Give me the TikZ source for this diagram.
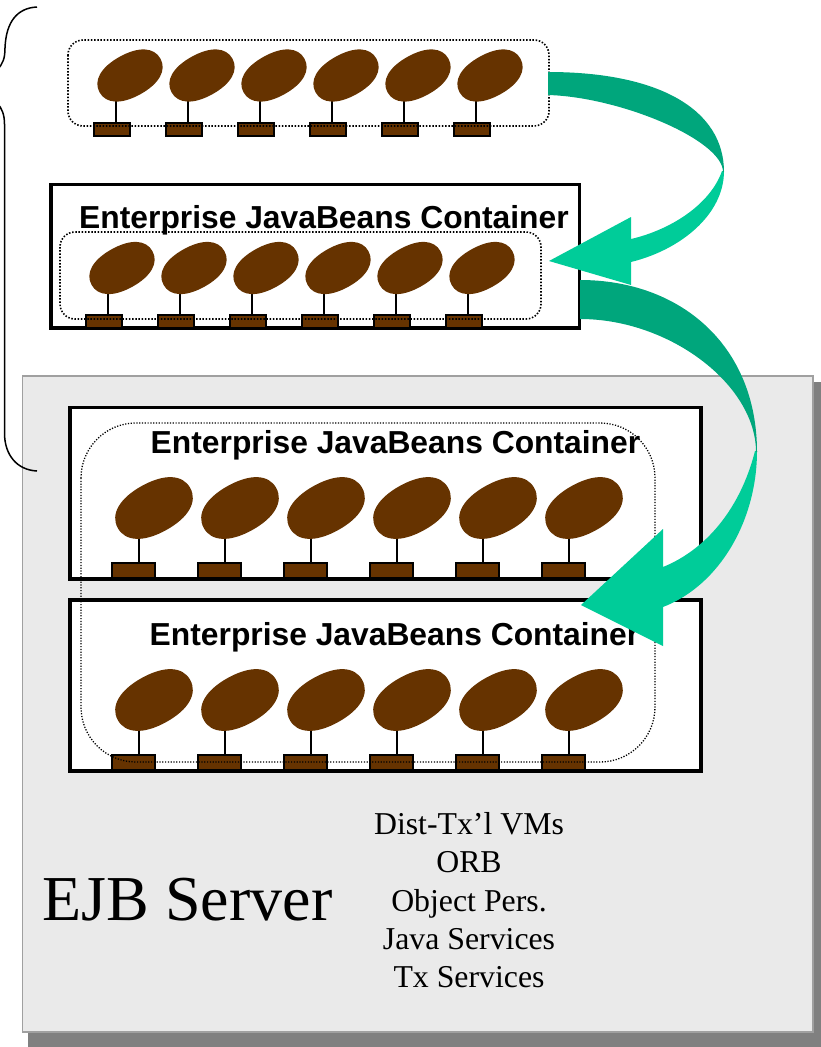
\documentclass[tikz,border=0pt]{standalone}
\usepackage{fontspec}
\setmainfont{Liberation Serif}
\newfontfamily\headfont{Liberation Sans}
\definecolor{beanbrown}{HTML}{663300}
\definecolor{arrowdark}{HTML}{00A67C}
\definecolor{arrowlight}{HTML}{00CC99}
\definecolor{serverfill}{HTML}{EAEAEA}
\definecolor{serveredge}{HTML}{A0A0A0}
\definecolor{servershadow}{HTML}{808080}
\tikzset{
  x=1pt,y=-1pt,
  every node/.style={outer sep=0pt,inner sep=0pt},
  container/.style={draw=black,line width=3.8pt,fill=white,anchor=north west},
  loopbox/.style={draw=black,dash pattern=on 1.5pt off 1.7pt,line width=1.6pt,rounded corners=15pt},
  bigloop/.style={draw=black,dash pattern=on 1.2pt off 1.6pt,line width=1.3pt,rounded corners=55pt},
  beanbase/.style={rectangle,draw=black,line width=2pt,fill=beanbrown},
  smallbase/.style={beanbase,minimum width=36pt,minimum height=13pt},
  bigbase/.style={beanbase,minimum width=43pt,minimum height=14.5pt},
  stem/.style={draw=black,line width=2pt},
  head/.style={font=\headfont\bfseries\fontsize{31.8}{34}\selectfont,anchor=base},
  body/.style={font=\fontsize{31.8}{34}\selectfont,anchor=base},
}
% #1 centre, #2 half length, #3 half width: a blunt oval leaning up to the right
\newcommand{\beanat}[3]{%
  \fill[beanbrown,shift={(#1)},rotate=29]
    (-#2,0) .. controls (-#2,{0.62*#3}) and ({-0.62*#2},#3) .. (0,#3)
    .. controls ({0.62*#2},#3) and (#2,{0.62*#3}) .. (#2,0)
    .. controls (#2,{-0.62*#3}) and ({0.62*#2},-#3) .. (0,-#3)
    .. controls ({-0.62*#2},-#3) and (-#2,{-0.62*#3}) .. (-#2,0) -- cycle;
}
\begin{document}
\begin{tikzpicture}
\useasboundingbox (0,0) rectangle (821,1047);
\clip (0,0) rectangle (821,1047);
% server
\fill[servershadow] (28,382) rectangle (821,1047);
\node[draw=serveredge,line width=1.8pt,fill=serverfill,minimum width=790.5pt,minimum height=656pt,anchor=north west] (server) at (22.5,376) {};
% brace
\draw[line width=1.5pt] (37,7) .. controls (17,8) and (6,22) .. (5,48) .. controls (5,58) and (3,64) .. (-3,70)
  (-3,103) .. controls (2,108) and (4.5,115) .. (4.5,124) -- (4.5,433) .. controls (4.5,455) and (17,470) .. (37,471);
% top row
\foreach \i in {0,...,5}{
  \pgfmathsetmacro{\bx}{130+\i*72}
  \pgfmathsetmacro{\cx}{112+\i*72}
  \node[smallbase] (ab\i) at (\cx,129.5) {};
  \draw[stem] ([xshift=4pt]ab\i.north) -- ++(0,-25);
  \beanat{\bx,75.5}{34.8}{21.4}
}
\draw[loopbox] (68,40) rectangle (549,126);
% container one
\node[container,minimum width=528.5pt,minimum height=143.5pt] (c1) at (51,184.5) {};
\node[head] (c1t) at (324,228.3) {Enterprise JavaBeans Container};
\foreach \i in {0,...,5}{
  \pgfmathsetmacro{\bx}{122+\i*72}
  \pgfmathsetmacro{\cx}{104+\i*72}
  \node[smallbase] (bb\i) at (\cx,321.5) {};
  \draw[stem] ([xshift=4pt]bb\i.north) -- ++(0,-25);
  \beanat{\bx,268}{34.8}{21.4}
}
\draw[loopbox] (60,232) rectangle (541,319);
% containers two and three
\node[container,minimum width=631.2pt,minimum height=171.2pt] (c2) at (69.8,407.5) {};
\node[container,minimum width=631.2pt,minimum height=171pt] (c3) at (69.8,600) {};
\node[head] (c2t) at (395.5,453.3) {Enterprise JavaBeans Container};
\node[head] (c3t) at (394.5,645.7) {Enterprise JavaBeans Container};
\foreach \i in {0,...,5}{
  \pgfmathsetmacro{\bx}{154+\i*86}
  \pgfmathsetmacro{\cx}{133+\i*86}
  \node[bigbase] (cb\i) at (\cx,570.5) {};
  \draw[stem] ([xshift=5.5pt]cb\i.north) -- ++(0,-30);
  \beanat{\bx,508}{41.4}{25.2}
  \node[bigbase] (db\i) at (\cx,762.5) {};
  \draw[stem] ([xshift=5.5pt]db\i.north) -- ++(0,-30);
  \beanat{\bx,700}{41.4}{25.2}
}
\draw[bigloop] (81,423) rectangle (655,762);
% upper arrow
\fill[arrowlight] (724,171) .. controls (724,215) and (680,250) .. (631,262) -- (631,285) -- (549,261) -- (631,217) -- (631,239) .. controls (670,230) and (710,205) .. (722,171) -- cycle;
\fill[arrowdark] (548,72) .. controls (660,72) and (724,110) .. (724,172) -- (723,172) .. controls (723,140) and (620,97) .. (548,95) -- cycle;
% lower arrow
\fill[arrowlight] (757,451) .. controls (757,520) and (720,585) .. (663,607) -- (663,646) -- (581,605) -- (663,529) -- (663,567) .. controls (705,550) and (740,510) .. (755,451) -- cycle;
\fill[arrowdark] (580,280) .. controls (680,280) and (757,345) .. (757,452) -- (756,452) .. controls (756,385) and (670,319) .. (580,319) -- cycle;
% server text
\node[font=\fontsize{64}{66}\selectfont,anchor=base] (ejb) at (187.5,920) {EJB Server};
\node[body] (t1) at (469,834) {Dist-Tx’l VMs};
\node[body] (t2) at (469,872) {ORB};
\node[body] (t3) at (469,911) {Object Pers.};
\node[body] (t4) at (469,949) {Java Services};
\node[body] (t5) at (469,987) {Tx Services};
\end{tikzpicture}
\end{document}
